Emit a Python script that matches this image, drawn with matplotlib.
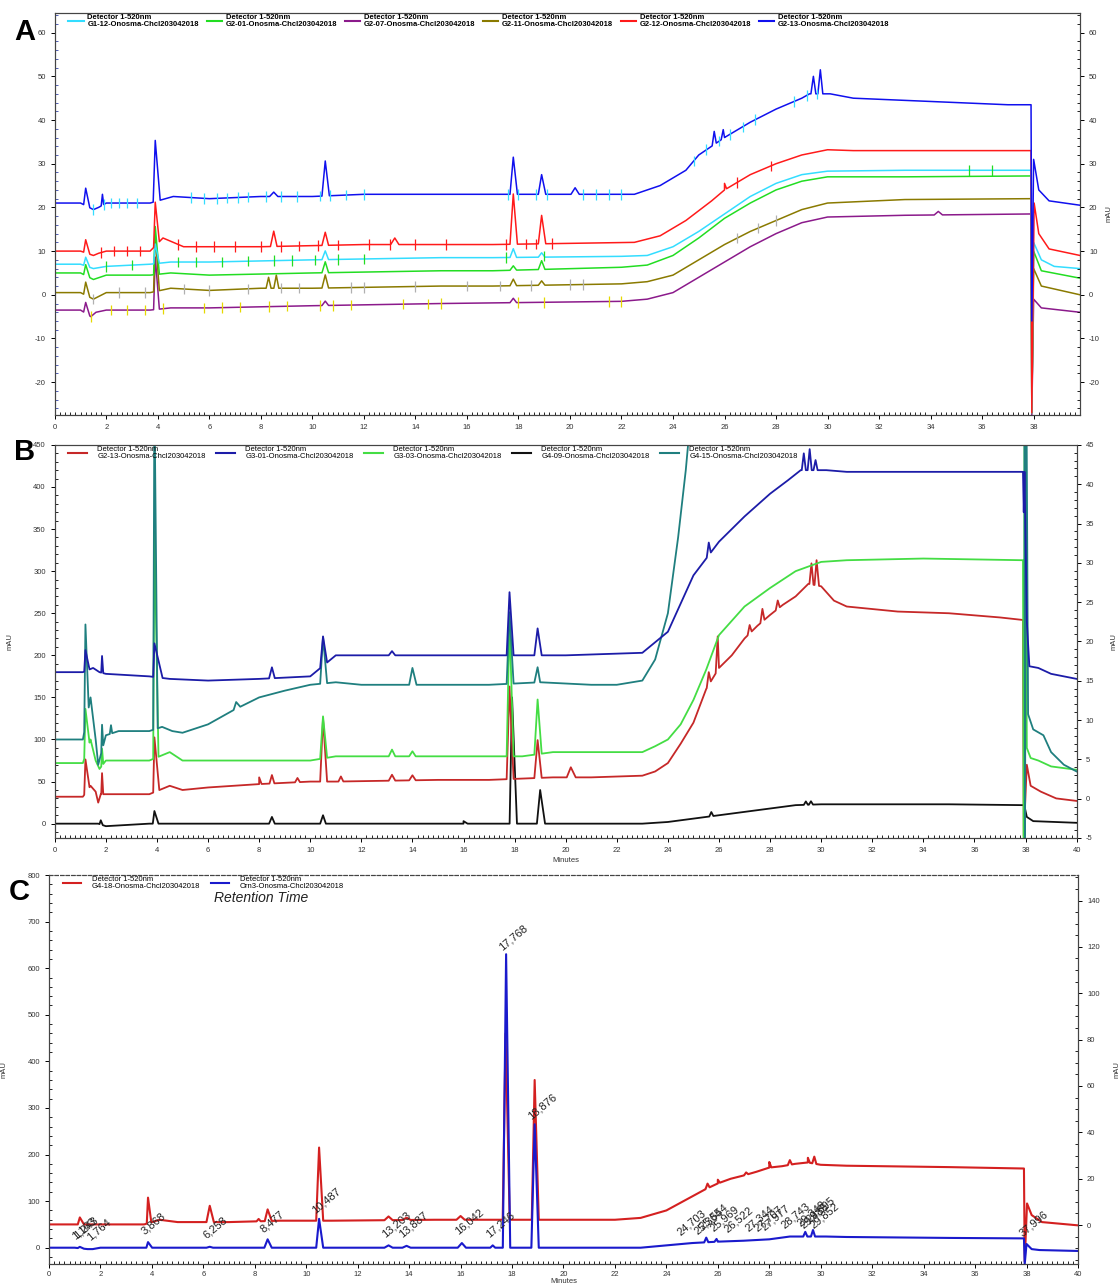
import numpy as np
import matplotlib
matplotlib.use("Agg")
import matplotlib.pyplot as plt
from matplotlib.lines import Line2D
from matplotlib.ticker import MultipleLocator

plt.rcParams['font.family'] = ['Liberation Sans', 'DejaVu Sans']
plt.rcParams['axes.unicode_minus'] = False

# ---------------- data: panel A (mAU) ----------------
# baseline knots (time, value) + peaks (time, height, left width, right width)
a_blue_t = [0, 1.0, 1.5, 1.7, 2.0, 3.7, 4.6, 6, 8, 10, 12, 15, 17, 22.5, 23.5, 24.5, 25, 26, 27, 28, 29, 29.3, 30.1, 31, 33, 35, 37, 37.9, 37.93, 38.0, 38.2, 38.6, 39.8]
a_blue_v = [21, 21, 19.5, 20, 21, 21, 22.5, 22, 22.5, 22.5, 23, 23, 23, 23, 25, 28.5, 32, 36, 39.5, 42.5, 45, 46, 46, 45, 44.5, 44, 43.5, 43.5, -6, 31, 24, 21.5, 20.5]
a_blue_pk = [(1.2, 4, 0.05, 0.1), (1.85, 2.5, 0.03, 0.03), (3.9, 14, 0.05, 0.12), (8.5, 1, 0.1, 0.1),
             (10.5, 8, 0.08, 0.1), (17.8, 8.5, 0.08, 0.1), (18.9, 4.5, 0.08, 0.1), (20.2, 1.5, 0.1, 0.1),
             (25.6, 3, 0.05, 0.05), (25.95, 2, 0.05, 0.05), (29.45, 4, 0.06, 0.06), (29.72, 5.5, 0.06, 0.06)]

a_red_t = [0, 1.0, 1.5, 1.7, 2.0, 3.7, 4.2, 5.0, 8, 12, 17, 22.5, 23.5, 24.5, 25.5, 26, 27, 28, 29, 30, 31, 35, 37.9, 37.93, 38.02, 38.2, 38.6, 39.8]
a_red_v = [10, 10, 9, 9.5, 10, 10, 13, 11, 11, 11.5, 11.5, 12, 13.5, 17, 21.5, 24, 27.5, 30, 32, 33.2, 33, 33, 33, -27, 21, 14, 10.5, 9]
a_red_pk = [(1.2, 3, 0.05, 0.1), (3.9, 10, 0.04, 0.1), (8.5, 3.5, 0.08, 0.08), (10.5, 3, 0.08, 0.08),
            (13.2, 1.5, 0.1, 0.1), (17.8, 11.5, 0.08, 0.1), (18.9, 6.5, 0.08, 0.1), (26.0, 1.5, 0.05, 0.05)]

a_cyan_t = [0, 1, 1.5, 2, 3.7, 4.5, 6, 10, 15, 17, 22, 23, 24, 25, 26, 27, 28, 29, 30, 33, 37.9, 37.93, 38.0, 38.3, 38.8, 39.8]
a_cyan_v = [7, 7, 6, 6.5, 7, 7.5, 7.5, 8, 8.5, 8.5, 8.8, 9, 11, 14.5, 18.5, 22.5, 25.5, 27.5, 28.3, 28.5, 28.5, -27, 12, 8, 6.5, 6]
a_cyan_pk = [(1.2, 2, 0.05, 0.1), (3.9, 4.5, 0.04, 0.1), (10.5, 2, 0.08, 0.08), (17.8, 2, 0.08, 0.08), (18.9, 1, 0.08, 0.08)]

a_green_t = [0, 1, 1.5, 2, 3.7, 4.5, 6, 10, 15, 17, 22, 23, 24, 25, 26, 27, 28, 29, 30, 33, 37.9, 37.93, 38.0, 38.3, 39.8]
a_green_v = [5, 5, 3.5, 4.5, 4.5, 5, 4.5, 5, 5.5, 5.5, 6.3, 6.8, 9, 13, 17.5, 21, 24, 26, 27, 27, 27.2, -27, 10, 5.5, 3.8]
a_green_pk = [(1.2, 2.5, 0.05, 0.1), (3.9, 11, 0.04, 0.1), (10.5, 2.5, 0.08, 0.08), (17.8, 1, 0.08, 0.08), (18.9, 2, 0.08, 0.08)]

a_olive_t = [0, 1, 1.5, 2, 3.7, 4.5, 6, 8, 10, 15, 17, 22, 23, 24, 25, 26, 27, 28, 29, 30, 33, 37.9, 37.93, 38.0, 38.3, 39.8]
a_olive_v = [0.5, 0.5, -1, 0.5, 0.5, 1.5, 1, 1.5, 1.5, 2, 2, 2.5, 3, 4.5, 8, 11.5, 14.5, 17, 19.5, 21, 21.8, 22, -27, 6, 2, 0]
a_olive_pk = [(1.2, 3, 0.05, 0.1), (3.9, 13, 0.04, 0.1), (8.3, 2.5, 0.06, 0.06), (8.6, 3, 0.06, 0.06),
              (10.5, 3, 0.08, 0.08), (17.8, 1.5, 0.08, 0.08), (18.9, 1, 0.08, 0.08)]

a_purple_t = [0, 1, 1.4, 1.6, 2, 3.7, 4.5, 6, 10, 15, 22, 23, 24, 25, 26, 27, 28, 29, 30, 33, 37.9, 37.93, 38.0, 38.3, 39.8]
a_purple_v = [-3.5, -3.5, -5, -4, -3.5, -3.5, -3, -3, -2.5, -2, -1.5, -1, 0.5, 4, 7.5, 11, 14, 16.5, 17.8, 18.2, 18.5, -27.5, -1, -3, -4]
a_purple_pk = [(1.2, 2.5, 0.05, 0.1), (3.9, 12, 0.04, 0.1), (10.5, 1, 0.08, 0.08), (17.8, 1, 0.08, 0.08), (34.3, 0.8, 0.1, 0.1)]

# integration marks (time) drawn on each trace
a_blue_marks = [1.5, 1.9, 2.2, 2.5, 2.8, 3.2, 5.3, 5.8, 6.3, 6.7, 7.1, 7.5, 8.2, 8.8, 9.4, 10.3, 10.7, 11.3, 12,
                17.6, 18.0, 18.7, 19.1, 20.5, 21, 21.5, 22, 24.8, 25.3, 25.8, 26.2, 26.7, 27.2, 28.7, 29.2, 29.6]
a_red_marks = [1.8, 2.3, 2.8, 3.3, 4.8, 5.5, 6.2, 7, 8, 8.8, 9.5, 10.2, 11, 12.2, 13, 14, 15.2, 17.5, 18.3, 18.7, 19.3, 26.5, 27.8]
a_cyan_marks = [2, 3, 4.8, 5.5, 6.5, 7.5, 8.5, 9.2, 10.1, 11, 12, 17.5, 19, 35.5, 36.4]
a_olive_marks = [1.5, 2.5, 3.5, 5, 6, 7.5, 8.8, 9.5, 11.5, 12, 14, 16, 17.3, 18.5, 20, 20.5, 26.5, 27.3, 28]
a_purple_marks = [1.4, 2.2, 2.8, 3.5, 4.2, 5.8, 6.5, 7.2, 8.3, 9, 10.3, 10.8, 11.5, 13.5, 14.5, 15, 18, 19, 21.5, 22]

a_labels = ["G1-12-Onosma-Chcl203042018", "G2-01-Onosma-Chcl203042018", "G2-07-Onosma-Chcl203042018",
            "G2-11-Onosma-Chcl203042018", "G2-12-Onosma-Chcl203042018", "G2-13-Onosma-Chcl203042018"]

# ---------------- data: panel B (mAU) ----------------
b_red_t = [0, 1.1, 1.4, 1.6, 1.7, 1.8, 2, 3.7, 4.5, 5, 6, 8, 10, 11, 15, 17, 19.5, 21, 23, 23.5, 24, 24.5, 25, 25.5, 26, 26.5, 27, 27.5, 28, 28.5, 29, 29.5, 30, 30.5, 31, 33, 35, 37, 37.9, 37.93, 38.05, 38.2, 38.6, 39.2, 40]
b_red_v = [32, 32, 45, 38, 25, 35, 35, 35, 45, 40, 43, 47, 50, 50, 52, 52, 55, 55, 57, 62, 72, 95, 120, 160, 185, 200, 220, 235, 248, 260, 270, 285, 282, 265, 258, 252, 250, 245, 242, -15, 70, 45, 38, 30, 27]
b_red_pk = [(1.2, 40, 0.03, 0.1), (1.85, 25, 0.02, 0.03), (3.9, 65, 0.03, 0.12), (8.0, 8, 0.06, 0.06), (8.5, 10, 0.06, 0.06),
            (9.5, 5, 0.06, 0.06), (10.5, 75, 0.07, 0.1), (11.2, 6, 0.06, 0.06), (13.2, 7, 0.08, 0.08), (14.0, 6, 0.08, 0.08),
            (17.8, 110, 0.07, 0.1), (18.9, 45, 0.08, 0.1), (20.2, 12, 0.1, 0.12), (25.6, 15, 0.05, 0.05),
            (25.95, 40, 0.05, 0.08), (27.2, 10, 0.05, 0.05), (27.7, 15, 0.05, 0.05), (28.3, 10, 0.05, 0.05),
            (29.62, 25, 0.05, 0.05), (29.82, 30, 0.05, 0.06)]

b_blue_t = [0, 1.1, 1.5, 1.75, 2, 3.7, 4.5, 6, 8, 10, 11, 12, 17, 20, 23, 24, 25, 26, 27, 28, 28.7, 29.2, 30.2, 31, 34, 37.9, 37.93, 37.96, 38.05, 38.15, 38.5, 39, 40]
b_blue_v = [180, 180, 185, 180, 178, 175, 172, 170, 172, 175, 200, 200, 200, 200, 203, 228, 295, 335, 365, 392, 408, 420, 420, 418, 418, 418, 370, 418, 240, 187, 185, 178, 172]
b_blue_pk = [(1.2, 25, 0.03, 0.1), (1.85, 20, 0.02, 0.03), (3.9, 40, 0.03, 0.2), (8.5, 13, 0.07, 0.07), (10.5, 35, 0.07, 0.1),
             (13.2, 5, 0.08, 0.08), (17.8, 75, 0.07, 0.1), (18.9, 32, 0.08, 0.1), (25.6, 15, 0.05, 0.05),
             (29.32, 20, 0.05, 0.05), (29.55, 25, 0.05, 0.05), (29.78, 12, 0.05, 0.05)]

b_green_t = [0, 1.1, 1.4, 1.6, 1.75, 2, 3.7, 4.5, 5, 10, 11, 17, 18.3, 19.5, 20, 23, 23.5, 24, 24.5, 25, 25.5, 26, 27, 28, 29, 30, 31, 34, 37.9, 37.93, 37.97, 38.05, 38.2, 38.5, 39, 40]
b_green_v = [72, 72, 100, 75, 65, 75, 75, 85, 75, 75, 80, 80, 80, 85, 85, 85, 92, 100, 118, 147, 183, 224, 258, 280, 300, 311, 313, 315, 313, -30, 600, 90, 78, 75, 68, 64]
b_green_pk = [(1.2, 55, 0.03, 0.1), (1.85, 20, 0.02, 0.03), (3.9, 270, 0.03, 0.1), (10.5, 50, 0.07, 0.1),
              (13.2, 8, 0.08, 0.08), (14.0, 6, 0.08, 0.08), (17.8, 160, 0.07, 0.1), (18.9, 65, 0.08, 0.1)]

b_black_t = [0, 1.7, 2, 3.7, 4.5, 8, 11, 16, 17.5, 18.3, 19.5, 23, 24, 25, 26, 27, 28, 29, 30, 32, 35, 37.9, 37.95, 38.05, 38.3, 40]
b_black_v = [0, 0, -3, 0, 0, 0, 0, 0, 0, 0, 0, 0, 2, 6, 10, 14, 18, 22, 23, 23, 23, 22, 22, 8, 3, 1]
b_black_pk = [(1.8, 5, 0.03, 0.05), (3.9, 15, 0.04, 0.1), (8.5, 8, 0.07, 0.07), (10.5, 10, 0.07, 0.07), (16.0, 3, 0.1, 0.1),
              (17.9, 150, 0.06, 0.12), (19.0, 40, 0.08, 0.12), (25.7, 5, 0.05, 0.05), (29.4, 4, 0.05, 0.05), (29.6, 4, 0.05, 0.05)]

b_teal_t = [0, 1.1, 1.4, 1.6, 1.7, 2.0, 2.5, 3.7, 4.2, 4.6, 5, 6, 7, 8, 9, 10, 11, 12, 13, 15, 17, 19, 21, 22, 23, 23.5, 24, 24.4, 24.7, 24.85, 37.95, 37.98, 38.02, 38.1, 38.3, 38.7, 39.0, 39.5, 40]
b_teal_v = [100, 100, 150, 100, 70, 105, 110, 110, 115, 110, 108, 118, 135, 150, 158, 165, 168, 165, 165, 165, 165, 168, 165, 165, 170, 195, 250, 340, 420, 470, 600, -30, 600, 130, 112, 105, 85, 70, 62]
b_teal_pk = [(1.2, 120, 0.03, 0.08), (1.85, 30, 0.02, 0.03), (2.2, 10, 0.03, 0.03), (3.9, 400, 0.03, 0.08), (7.1, 8, 0.1, 0.1),
             (10.5, 55, 0.07, 0.1), (14.0, 20, 0.08, 0.1), (17.8, 85, 0.07, 0.1), (18.9, 18, 0.08, 0.1)]

b_labels = ["G2-13-Onosma-Chcl203042018", "G3-01-Onosma-Chcl203042018", "G3-03-Onosma-Chcl203042018",
            "G4-09-Onosma-Chcl203042018", "G4-15-Onosma-Chcl203042018"]

# ---------------- data: panel C (mAU) ----------------
c_red_t = [0, 1.0, 1.6, 3.7, 4.3, 5.0, 7, 9, 11, 15, 17, 19.5, 22, 23, 24, 25, 25.5, 26, 26.5, 27, 27.5, 28, 28.5, 29, 29.5, 30, 31, 35, 37.9, 37.93, 38.02, 38.2, 38.6, 40]
c_red_v = [50, 50, 50, 50, 60, 55, 55, 58, 58, 60, 60, 60, 60, 64, 80, 110, 125, 138, 148, 155, 163, 172, 175, 180, 183, 178, 176, 173, 170, -30, 95, 70, 55, 48]
c_red_pk = [(1.2, 15, 0.05, 0.1), (3.85, 55, 0.03, 0.08), (6.25, 35, 0.08, 0.1), (8.15, 5, 0.05, 0.05), (8.5, 25, 0.07, 0.1),
            (10.5, 157, 0.07, 0.1), (13.2, 8, 0.1, 0.1), (13.9, 5, 0.1, 0.1), (16.0, 8, 0.1, 0.1), (17.75, 400, 0.07, 0.1),
            (18.88, 300, 0.07, 0.1), (25.6, 10, 0.05, 0.05), (26.0, 8, 0.05, 0.05), (27.1, 5, 0.05, 0.05),
            (28.0, 12, 0.05, 0.05), (28.8, 10, 0.05, 0.05), (29.5, 10, 0.05, 0.05), (29.75, 15, 0.05, 0.05)]

c_blue_t = [0, 1.0, 1.5, 1.7, 2, 23, 24, 25, 26, 27, 28, 28.8, 30.2, 31, 35, 37.9, 37.93, 38.0, 38.2, 38.5, 40]
c_blue_v = [0, 0, -3, -3, 0, 0, 5, 10, 13, 15, 18, 24, 24, 23, 21, 20, -35, 8, -3, -5, -7]
c_blue_pk = [(1.2, 3, 0.05, 0.1), (3.85, 12, 0.04, 0.1), (6.25, 2, 0.08, 0.08), (8.5, 18, 0.08, 0.1), (10.5, 62, 0.07, 0.1),
             (13.2, 5, 0.1, 0.1), (13.9, 4, 0.1, 0.1), (16.05, 10, 0.1, 0.1), (17.25, 5, 0.06, 0.06),
             (17.77, 630, 0.08, 0.1), (18.88, 265, 0.08, 0.1), (25.55, 10, 0.05, 0.05), (25.95, 6, 0.05, 0.05),
             (29.4, 10, 0.05, 0.05), (29.7, 14, 0.05, 0.05)]

c_peak_times = [1.163, 1.243, 1.764, 3.868, 6.258, 8.477, 10.487, 13.203, 13.887, 16.042, 17.246, 17.768, 18.876,
                24.703, 25.364, 25.554, 25.969, 26.522, 27.344, 27.707, 27.977, 28.743, 29.348, 29.485, 29.695, 29.852, 37.996]
c_labels = ["G4-18-Onosma-Chcl203042018", "Orn3-Onosma-Chcl203042018"]

PEAK_SCALE = 1.6  # drawing width factor for peaks


def build(kt, kv, peaks):
    # merge baseline knots and triangular peak vertices
    pts = list(zip(kt, kv))
    for tc, h, wl, wr in peaks:
        wl, wr = wl * PEAK_SCALE, wr * PEAK_SCALE
        pts.append((tc - wl, np.interp(tc - wl, kt, kv)))
        pts.append((tc, np.interp(tc, kt, kv) + h))
        pts.append((tc + wr, np.interp(tc + wr, kt, kv)))
    pts.sort(key=lambda p: p[0])
    arr = np.array(pts)
    return arr[:, 0], arr[:, 1]


def style_axes(ax, ymaj, ymin, tick_col='#333333'):
    ax.xaxis.set_major_locator(MultipleLocator(2))
    ax.xaxis.set_minor_locator(MultipleLocator(0.2))
    ax.yaxis.set_major_locator(MultipleLocator(ymaj))
    ax.yaxis.set_minor_locator(MultipleLocator(ymin))
    ax.tick_params(which='major', length=3, width=0.7, labelsize=5.5, labelcolor=tick_col, direction='out')
    ax.tick_params(which='minor', length=2, width=0.6, direction='in')
    for s in ax.spines.values():
        s.set_linewidth(0.8)
        s.set_color('#444444')


def detector_legend(ax, colors, labels, bold, hlen, hpad, spacing):
    handles = [Line2D([], [], color=c, lw=1.5) for c in colors]
    texts = ["Detector 1-520nm\n" + l for l in labels]
    leg = ax.legend(handles, texts, loc='upper left', bbox_to_anchor=(0.008, 1.01), ncol=len(labels), frameon=False,
                    handlelength=hlen, handletextpad=hpad, columnspacing=spacing, borderaxespad=0.3,
                    prop={'size': 5.5, 'weight': 'bold' if bold else 'normal'})
    for t in leg.get_texts():
        t.set_linespacing(1.0)
    return leg


fig = plt.figure(figsize=(11.18, 12.87), dpi=100)

# ================= Panel A =================
axA = fig.add_axes([0.049, 0.6776, 0.917, 0.3123])
a_traces = [
    (a_purple_t, a_purple_v, a_purple_pk, '#8b1a8b', a_purple_marks, '#e6d800'),
    (a_olive_t, a_olive_v, a_olive_pk, '#8a7a00', a_olive_marks, '#b0b0b0'),
    (a_green_t, a_green_v, a_green_pk, '#22dd22', [], None),
    (a_cyan_t, a_cyan_v, a_cyan_pk, '#33ddff', a_cyan_marks, '#22dd22'),
    (a_red_t, a_red_v, a_red_pk, '#ff1a1a', a_red_marks, '#ff1a1a'),
    (a_blue_t, a_blue_v, a_blue_pk, '#1010ee', a_blue_marks, '#33ddff'),
]
for kt, kv, pk, col, marks, mcol in a_traces:
    t, v = build(kt, kv, pk)
    axA.plot(t, v, color=col, lw=1.1)
    if marks:
        my = np.interp(marks, t, v)
        axA.vlines(marks, my - 1.2, my + 1.2, color=mcol, lw=0.9)
axA.set_xlim(0, 39.8)
axA.set_ylim(-27.5, 64.5)
style_axes(axA, 10, 2)
axA.tick_params(axis='y', which='minor', color='#3344aa')
axA_r = axA.twinx()
axA_r.set_ylim(-27.5, 64.5)
style_axes(axA_r, 10, 2)
axA_r.set_ylabel('mAU', fontsize=5.5, color='#333333', labelpad=4)
detector_legend(axA, ['#33ddff', '#22dd22', '#8b1a8b', '#8a7a00', '#ff1a1a', '#1010ee'], a_labels, True, 2.0, 0.5, 1.0)

# ================= Panel B =================
axB = fig.add_axes([0.049, 0.3489, 0.914, 0.3054])
b_traces = [
    (b_black_t, b_black_v, b_black_pk, '#111111'),
    (b_red_t, b_red_v, b_red_pk, '#c62828'),
    (b_green_t, b_green_v, b_green_pk, '#44dd44'),
    (b_teal_t, b_teal_v, b_teal_pk, '#1f7f7f'),
    (b_blue_t, b_blue_v, b_blue_pk, '#1c1ca8'),
]
for kt, kv, pk, col in b_traces:
    t, v = build(kt, kv, pk)
    axB.plot(t, v, color=col, lw=1.3)
axB.set_xlim(0, 40)
axB.set_ylim(-17, 450)
style_axes(axB, 50, 10)
axB.set_ylabel('mAU', fontsize=5.5, color='#333333', labelpad=14)
axB.set_xlabel('Minutes', fontsize=5.5, color='#333333', labelpad=2)
axB_r = axB.twinx()
axB_r.set_ylim(-5, 45)
style_axes(axB_r, 5, 1)
axB_r.set_ylabel('mAU', fontsize=5.5, color='#333333', labelpad=12)
detector_legend(axB, ['#c62828', '#1c1ca8', '#44dd44', '#111111', '#1f7f7f'], b_labels, False, 2.4, 1.4, 1.4)

# ================= Panel C =================
axC = fig.add_axes([0.0438, 0.0175, 0.9204, 0.3026])
c_red = build(c_red_t, c_red_v, c_red_pk)
c_blue = build(c_blue_t, c_blue_v, c_blue_pk)
axC.plot(*c_red, color='#d42020', lw=1.5)
axC.plot(*c_blue, color='#1a1acc', lw=1.5)
axC.set_xlim(0, 40)
axC.set_ylim(-36, 800)
style_axes(axC, 100, 20)
axC.tick_params(axis='x', which='major', pad=2)
axC.spines['top'].set_linestyle((0, (3, 2)))
axC.set_ylabel('mAU', fontsize=5.5, color='#333333', labelpad=14)
axC.set_xlabel('Minutes', fontsize=5.5, color='#333333', labelpad=0)
axC_r = axC.twinx()
axC_r.set_ylim(-17, 151)
style_axes(axC_r, 20, 5)
axC_r.spines['top'].set_linestyle((0, (3, 2)))
axC_r.set_ylabel('mAU', fontsize=5.5, color='#333333', labelpad=10)
for pt in c_peak_times:
    yb = np.interp(pt, c_blue[0], c_blue[1])
    axC.text(pt - 0.1, yb + 14, f"{pt:.3f}".replace('.', ','), rotation=40, rotation_mode='anchor',
             ha='left', va='bottom', fontsize=8, color='#222222')
detector_legend(axC, ['#d42020', '#1a1acc'], c_labels, False, 2.4, 1.4, 1.4)
axC.text(0.16, 0.942, 'Retention Time', transform=axC.transAxes, fontsize=10, style='italic',
         color='#222222', va='center')

# panel letters
for lab, x, y in [('A', 0.022, 0.975), ('B', 0.022, 0.649), ('C', 0.0175, 0.307)]:
    fig.text(x, y, lab, fontsize=21, fontweight='bold', ha='center', va='center')

fig.savefig('out.png', dpi=100)
